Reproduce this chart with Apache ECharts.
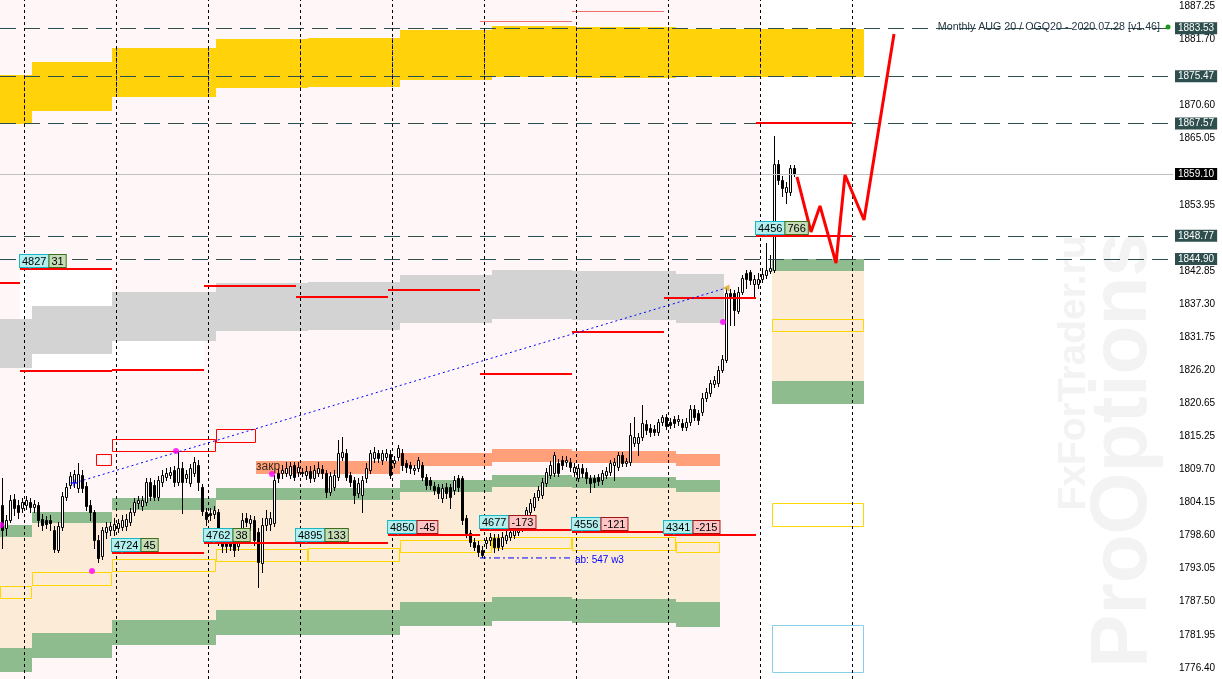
<!DOCTYPE html>
<html>
<head>
<meta charset="utf-8">
<title>Monthly AUG 20 / OGQ20</title>
<script src="https://cdn.jsdelivr.net/npm/echarts@6.0.0/dist/echarts.min.js"></script>
<style>
  html, body { margin: 0; padding: 0; background: #fff; }
  #chart { width: 1222px; height: 679px; }
</style>
</head>
<body>
<div id="chart"></div>
<script>
// x = hourly bar number (one unit per candle), y = price

// candles: [open, close, low, high]
const candles = [
  [1803.69,1799.50,1796.49,1808.21],[1799.84,1801.18,1798.67,1802.01],[1801.18,1804.52,1800.84,1805.36],
  [1804.69,1803.18,1802.01,1805.53],[1803.69,1802.51,1801.51,1804.52],[1803.18,1804.19,1802.51,1804.86],
  [1803.69,1804.52,1803.02,1805.19],[1804.19,1803.35,1802.51,1804.86],[1803.35,1803.85,1802.51,1804.52],
  [1803.69,1801.18,1800.17,1804.19],[1801.34,1800.34,1799.50,1802.18],[1801.18,1800.51,1799.84,1801.85],
  [1801.18,1800.67,1799.50,1802.01],[1799.50,1796.32,1795.82,1800.17],[1796.15,1800.17,1795.82,1800.84],
  [1800.00,1805.19,1799.50,1805.86],[1805.02,1806.70,1804.52,1807.37],[1807.03,1808.54,1806.53,1809.21],
  [1807.54,1808.88,1806.70,1809.55],[1806.53,1808.88,1805.86,1810.72],[1808.71,1806.53,1805.86,1809.55],
  [1806.87,1803.52,1802.85,1807.54],[1803.69,1802.51,1801.18,1804.52],[1802.51,1797.83,1796.49,1802.85],
  [1797.83,1794.82,1794.14,1798.67],[1795.15,1799.50,1794.65,1800.00],[1799.17,1800.00,1798.16,1800.84],
  [1799.50,1800.17,1798.67,1800.84],[1799.50,1800.51,1798.67,1801.51],[1799.84,1800.67,1799.17,1801.34],
  [1800.00,1801.18,1799.50,1802.01],[1800.17,1801.34,1799.50,1802.18],[1800.84,1802.51,1800.34,1803.18],
  [1802.51,1804.19,1802.01,1804.86],[1804.02,1804.52,1803.18,1805.19],[1803.52,1804.52,1802.85,1805.19],
  [1804.19,1807.54,1803.69,1808.21],[1807.54,1805.19,1804.52,1808.21],[1807.03,1805.02,1804.52,1807.87],
  [1805.02,1807.87,1804.52,1808.54],[1807.54,1808.71,1806.87,1809.55],[1808.37,1809.04,1807.87,1809.88],
  [1808.71,1809.21,1808.21,1810.05],[1809.55,1807.54,1806.87,1810.22],[1807.54,1809.88,1807.03,1812.56],
  [1809.88,1807.54,1802.35,1810.89],[1808.21,1808.88,1807.54,1809.55],[1807.37,1809.88,1806.87,1810.55],
  [1809.04,1810.89,1808.54,1811.72],[1810.38,1807.54,1806.20,1811.22],[1806.70,1802.68,1802.01,1807.20],
  [1802.51,1801.34,1800.34,1803.18],[1802.35,1802.01,1801.18,1803.18],[1802.18,1802.85,1801.51,1803.52],
  [1802.51,1797.83,1796.99,1803.02],[1797.83,1796.83,1795.82,1798.67],[1798.33,1796.83,1795.82,1799.17],
  [1797.83,1796.83,1796.15,1798.50],[1797.83,1796.15,1795.15,1798.67],[1796.83,1798.33,1796.15,1799.50],
  [1799.17,1801.18,1798.50,1802.35],[1801.51,1800.84,1800.17,1802.35],[1800.67,1801.34,1799.50,1802.01],
  [1801.18,1797.83,1796.99,1801.85],[1799.17,1794.14,1789.96,1799.84],[1793.98,1800.34,1792.47,1801.51],
  [1800.34,1801.51,1799.50,1802.85],[1800.51,1801.51,1799.50,1802.51],[1800.67,1807.87,1800.17,1808.71],
  [1809.04,1808.21,1807.54,1809.88],[1809.04,1809.55,1808.21,1810.38],[1809.04,1809.88,1808.54,1810.89],
  [1808.71,1810.22,1808.21,1810.89],[1810.38,1808.37,1807.87,1810.89],[1809.21,1810.05,1808.54,1810.89],
  [1809.21,1809.04,1808.54,1809.88],[1808.71,1809.38,1808.04,1810.22],[1809.38,1808.21,1807.54,1810.22],
  [1808.21,1809.55,1807.70,1810.38],[1809.04,1809.88,1808.54,1810.89],[1809.71,1809.04,1808.21,1810.38],
  [1809.04,1805.86,1805.02,1809.55],[1805.86,1808.54,1805.36,1809.21],[1806.70,1808.71,1806.20,1809.55],
  [1808.37,1812.39,1807.87,1814.57],[1811.72,1812.56,1811.22,1815.07],[1812.39,1808.37,1807.87,1813.06],
  [1808.71,1807.54,1806.87,1809.21],[1807.87,1805.36,1804.02,1808.37],[1805.69,1807.37,1805.02,1808.21],
  [1805.36,1807.87,1802.51,1808.54],[1808.21,1809.88,1807.54,1810.72],[1809.55,1812.39,1809.04,1812.90],
  [1811.56,1812.56,1810.89,1813.40],[1812.39,1811.56,1810.89,1812.90],[1811.22,1812.39,1810.55,1812.90],
  [1811.72,1812.39,1811.22,1813.06],[1812.23,1808.71,1808.21,1812.90],[1810.72,1811.22,1810.05,1811.89],
  [1811.72,1813.23,1811.22,1813.73],[1812.39,1810.38,1809.55,1813.06],[1810.72,1810.05,1809.21,1811.22],
  [1810.38,1809.88,1809.04,1810.89],[1809.55,1809.88,1808.88,1810.38],[1809.88,1811.22,1809.38,1811.72],
  [1810.38,1808.37,1807.87,1810.89],[1808.37,1807.03,1806.36,1808.88],[1807.87,1807.03,1806.36,1808.37],
  [1806.87,1806.20,1805.53,1807.54],[1806.70,1805.69,1804.86,1807.20],[1804.86,1806.53,1804.19,1807.20],
  [1806.70,1805.69,1804.86,1807.37],[1806.70,1805.02,1803.18,1807.20],[1806.20,1807.87,1805.53,1808.54],
  [1808.21,1806.70,1806.03,1808.71],[1808.21,1801.18,1800.51,1808.54],[1801.51,1799.00,1798.33,1802.01],
  [1799.00,1797.49,1796.83,1799.50],[1797.49,1796.66,1796.15,1798.16],[1796.99,1795.82,1795.15,1797.66],
  [1796.15,1795.32,1794.98,1796.83],[1797.33,1797.83,1796.49,1798.33],[1797.83,1798.33,1796.99,1799.00],
  [1798.16,1796.66,1795.82,1798.83],[1798.16,1796.66,1796.15,1798.83],[1796.83,1798.33,1796.32,1799.17],
  [1797.83,1798.67,1797.33,1799.33],[1798.33,1799.17,1797.83,1799.84],[1798.67,1799.84,1798.16,1800.34],
  [1799.17,1800.00,1798.67,1800.67],[1799.84,1800.84,1799.33,1801.51],[1800.84,1802.85,1800.34,1803.35],
  [1802.51,1804.02,1802.01,1804.69],[1803.35,1805.02,1802.85,1805.69],[1805.02,1806.20,1804.52,1806.87],
  [1805.36,1807.54,1804.86,1808.21],[1807.37,1809.21,1806.87,1809.88],[1808.71,1810.38,1808.21,1811.05],
  [1809.04,1812.06,1808.54,1812.56],[1810.72,1809.04,1808.54,1811.39],[1811.22,1810.38,1809.71,1811.89],
  [1810.89,1811.22,1810.22,1811.89],[1810.89,1810.05,1809.38,1811.56],[1809.21,1810.05,1808.54,1810.72],
  [1808.21,1809.88,1807.70,1810.55],[1809.88,1809.04,1808.37,1810.55],[1809.21,1808.21,1807.37,1809.88],
  [1808.21,1807.37,1805.86,1808.71],[1808.21,1807.54,1806.70,1808.71],[1808.37,1807.70,1807.03,1808.88],
  [1807.87,1809.04,1807.20,1809.55],[1808.71,1809.38,1808.21,1810.05],[1809.21,1810.72,1808.71,1811.22],
  [1810.38,1810.89,1807.87,1811.56],[1810.05,1812.06,1809.55,1812.56],[1812.06,1810.72,1810.22,1812.56],
  [1810.72,1811.05,1810.22,1811.56],[1810.89,1815.41,1810.38,1817.42],[1814.07,1815.07,1813.57,1818.42],
  [1814.07,1815.07,1812.06,1815.74],[1815.07,1817.42,1814.57,1820.43],[1817.25,1816.24,1815.57,1817.92],
  [1816.58,1815.91,1815.24,1817.25],[1816.41,1815.91,1815.41,1817.08],[1815.91,1817.58,1815.41,1818.09],
  [1817.58,1818.42,1817.08,1818.76],[1818.42,1816.91,1816.41,1818.92],[1817.58,1817.08,1816.58,1818.25],
  [1818.09,1817.42,1816.75,1818.59],[1817.75,1818.09,1817.08,1818.76],[1817.42,1816.75,1816.24,1818.09],
  [1816.75,1817.58,1816.24,1818.25],[1817.58,1819.76,1817.08,1820.43],[1819.76,1818.42,1817.92,1820.43],
  [1819.09,1817.92,1817.25,1819.60],[1819.26,1821.60,1818.76,1822.44],[1821.60,1822.61,1821.10,1823.28],
  [1822.44,1824.12,1821.94,1824.62],[1823.95,1824.62,1823.45,1825.29],[1824.12,1826.29,1823.61,1826.96],
  [1826.29,1828.14,1825.96,1828.81],[1827.97,1839.19,1827.63,1840.02],[1839.19,1838.68,1833.83,1839.86],
  [1839.19,1836.34,1833.83,1839.69],[1836.17,1839.35,1835.84,1840.19],[1839.35,1841.70,1839.02,1842.20],
  [1842.54,1841.53,1840.02,1843.04],[1842.70,1841.36,1840.69,1843.04],[1840.69,1841.53,1838.68,1842.20],
  [1840.69,1841.53,1840.02,1842.54],[1841.53,1842.37,1841.03,1843.37],[1842.20,1843.04,1841.70,1847.56],
  [1842.87,1843.37,1842.54,1845.55],[1843.04,1860.79,1842.70,1865.48],[1860.79,1858.11,1857.44,1861.46],
  [1858.11,1856.77,1855.43,1858.78],[1856.10,1856.94,1854.26,1857.77],[1856.10,1860.12,1855.60,1860.62],
  [1860.12,1859.10,1858.78,1860.62]
];

const priceTicks = [1776.40, 1781.95, 1787.50, 1793.05, 1798.60, 1804.15, 1809.70, 1815.25, 1820.65,
  1826.20, 1831.75, 1837.30, 1842.85, 1848.40, 1853.95, 1859.50, 1865.05, 1870.60, 1876.15, 1881.70, 1887.25];
const keyLevels = [1883.53, 1875.47, 1867.57, 1848.77, 1844.90];
const lastPrice = 1859.10;
const daySeparators = [6, 29, 52, 75, 98, 121, 144, 167, 190, 213];

// zones: [from bar, to bar, top price, bottom price]
const historyArea = [[0, 190, 1888.25, 1774.55]];
const rangeAreas = [[5, 28, 1843.21, 1826.13], [28, 51, 1839.40, 1826.30]];
const yellowZones = [
  [0, 8, 1875.70, 1867.49], [8, 28, 1877.87, 1869.67], [28, 54, 1880.22, 1872.01],
  [54, 77, 1881.72, 1873.52], [77, 100, 1881.89, 1873.69], [100, 123, 1883.23, 1874.86],
  [123, 144, 1883.90, 1875.36], [144, 169, 1883.73, 1875.19], [169, 216, 1883.40, 1875.28]
];
const grayZones = [
  [0, 8, 1834.83, 1826.63], [8, 28, 1837.01, 1829.00], [28, 54, 1839.36, 1831.15],
  [54, 77, 1840.87, 1832.83], [77, 100, 1841.03, 1833.00], [100, 123, 1842.21, 1834.17],
  [123, 143, 1843.04, 1834.83], [143, 169, 1842.88, 1834.67], [169, 181, 1842.37, 1834.17]
];
const upperGreen = [
  [0, 8, 1800.34, 1798.33], [8, 28, 1802.52, 1800.67], [28, 54, 1804.86, 1802.85],
  [54, 77, 1806.54, 1804.53], [77, 100, 1806.54, 1804.53], [100, 123, 1807.88, 1805.87],
  [123, 143, 1808.71, 1806.70], [143, 169, 1808.38, 1806.54], [169, 180, 1807.88, 1805.87],
  [193, 216, 1844.88, 1842.88]
];
const lowerGreen = [
  [0, 8, 1779.74, 1775.73], [8, 28, 1782.26, 1778.07], [28, 54, 1784.43, 1780.24],
  [54, 77, 1786.11, 1781.92], [77, 100, 1786.11, 1781.92], [100, 123, 1787.45, 1783.43],
  [123, 143, 1788.29, 1784.27], [143, 169, 1787.95, 1783.93], [169, 180, 1787.45, 1783.26],
  [193, 216, 1824.46, 1820.60]
];
const salmonZones = [
  [64, 100, 1811.06, 1808.88], [100, 123, 1812.40, 1810.22], [123, 143, 1813.07, 1810.89],
  [143, 169, 1812.73, 1810.72], [169, 180, 1812.23, 1810.22]
];
const yellowBoxes = [
  [0, 8, 1790.12, 1787.95], [8, 28, 1792.47, 1790.12], [28, 54, 1794.65, 1792.47],
  [54, 77, 1796.32, 1794.15], [77, 100, 1796.49, 1794.15], [100, 123, 1797.83, 1795.65],
  [123, 143, 1798.33, 1796.32], [143, 169, 1798.33, 1795.99], [169, 180, 1797.50, 1795.65],
  [193, 216, 1834.83, 1832.66], [193, 216, 1804.03, 1800.01]
];
const skyBoxes = [[193, 216, 1783.60, 1775.56]];
const redBoxes = [[24, 28, 1812.23, 1810.22], [28, 54, 1814.74, 1812.57], [54, 64, 1816.42, 1814.07]];

// level segments: [from bar, to bar, price]
const redLevels = [
  [0, 5, 1840.87], [5, 28, 1843.21], [5, 28, 1826.13], [28, 51, 1826.30], [28, 51, 1795.65],
  [51, 74, 1840.36], [51, 74, 1797.33], [74, 97, 1838.52], [74, 97, 1797.33],
  [97, 120, 1839.69], [97, 120, 1798.67], [120, 143, 1825.63], [120, 143, 1799.50],
  [143, 166, 1832.66], [143, 166, 1799.17], [166, 189, 1838.35], [166, 189, 1798.67],
  [189, 213, 1867.66], [189, 213, 1848.73]
];
const thinLevels = [[120, 143, 1884.74], [143, 166, 1886.41]];

// day labels: [bar, price, volume, delta]
const dayLabels = [
  [5, 1843.21, '4827', '31'], [28, 1795.65, '4724', '45'], [51, 1797.33, '4762', '38'],
  [74, 1797.33, '4895', '133'], [97, 1798.67, '4850', '-45'], [120, 1799.50, '4677', '-173'],
  [143, 1799.17, '4556', '-121'], [166, 1798.67, '4341', '-215'], [189, 1848.73, '4456', '766']
];

const forecast = [[199.25, 1858.62], [202.75, 1849.41], [205, 1853.76], [209, 1844.21],
  [211.25, 1858.95], [216, 1851.41], [223.5, 1882.56]];
const trendLine = [[18.5, 1807.37], [180.75, 1839.86]];
const abLine = [[120, 1794.82], [143.25, 1794.82]];
const magentaDots = [[0.25, 1800.34], [23, 1792.64], [44, 1812.73], [68, 1808.88], [180.75, 1834.34]];
const trendStart = [[18.5, 1807.37]];
const trendEnd = [[181.5, 1840.03]];
const notes = [[64, 1810.0, 'закр', '#3b2a1e', 12], [143.75, 1794.45, 'ab: 547 w3', '#0000ff', 10]];

const FONT = '"Liberation Sans", Arial, sans-serif';

function fillSeries(data, color, z) {
  return {
    type: 'custom', silent: true, z: z, data: data,
    renderItem: function (params, api) {
      const a = api.coord([api.value(0), api.value(2)]);
      const b = api.coord([api.value(1), api.value(3)]);
      return {
        type: 'rect',
        shape: { x: Math.round(a[0]), y: Math.round(a[1]), width: Math.round(b[0]) - Math.round(a[0]), height: Math.round(b[1]) - Math.round(a[1]) },
        style: { fill: color }
      };
    }
  };
}

function outlineSeries(data, color, z) {
  return {
    type: 'custom', silent: true, z: z, data: data,
    renderItem: function (params, api) {
      const a = api.coord([api.value(0), api.value(2)]);
      const b = api.coord([api.value(1), api.value(3)]);
      const x0 = Math.round(a[0]) + 0.5, y0 = Math.round(a[1]) + 0.5;
      return {
        type: 'rect',
        shape: { x: x0, y: y0, width: Math.round(b[0]) - Math.round(a[0]) - 1, height: Math.round(b[1]) - Math.round(a[1]) - 1 },
        style: { fill: 'none', stroke: color, lineWidth: 1 }
      };
    }
  };
}

function levelSeries(data, color, width, z) {
  return {
    type: 'custom', silent: true, z: z, data: data,
    renderItem: function (params, api) {
      const a = api.coord([api.value(0), api.value(2)]);
      const b = api.coord([api.value(1), api.value(2)]);
      const y = width % 2 ? Math.round(a[1]) + 0.5 : Math.round(a[1]);
      return {
        type: 'line',
        shape: { x1: Math.round(a[0]), y1: y, x2: Math.round(b[0]), y2: y },
        style: { stroke: color, lineWidth: width }
      };
    }
  };
}

// peach body between the two green bands of each session
const peachZones = upperGreen.map(function (u, i) {
  return [u[0], u[1], u[3], lowerGreen[i][2]];
});

// separators show blue where they cross the yellow band
const separatorOnYellow = daySeparators.map(function (x) {
  const z = yellowZones.find(function (r) { return x >= r[0] && x < r[1]; });
  return [x, z[2], z[3]];
});

// axis labels hidden behind the level boxes
const coveredTick = function (v) {
  return keyLevels.concat([lastPrice]).some(function (k) { return Math.abs(k - v) < 1; });
};

const candleData = candles.map(function (c, i) { return [i + 0.5, c[0], c[1], c[2], c[3]]; });

const option = {
  animation: false,
  backgroundColor: '#ffffff',
  grid: { left: 0, right: 49, top: 0, bottom: 0 },
  xAxis: { type: 'value', min: 0, max: 293.25, show: false },
  yAxis: {
    type: 'value', position: 'right', min: 1774.55, max: 1888.25,
    splitLine: { show: false },
    axisLine: { show: true, lineStyle: { color: '#000', width: 1 } },
    axisTick: { show: true, length: 3, customValues: priceTicks, lineStyle: { color: '#000' } },
    axisLabel: {
      customValues: priceTicks, margin: 6, color: '#000', fontSize: 10, fontFamily: FONT,
      formatter: function (v) { return coveredTick(v) ? '' : v.toFixed(2); }
    }
  },
  graphic: [
    { type: 'text', z: 0, x: 1124, y: 450, rotation: Math.PI / 2, silent: true,
      style: { text: 'ProOptions', font: 'bold 80px ' + FONT, fill: '#f3f3f3', align: 'center', verticalAlign: 'middle' } },
    { type: 'text', z: 0, x: 1074, y: 373, rotation: Math.PI / 2, silent: true,
      style: { text: 'FxForTrader.ru', font: 'bold 39px ' + FONT, fill: '#f3f3f3', align: 'center', verticalAlign: 'middle' } },
    { type: 'text', z: 20, x: 1160, y: 27, silent: true,
      style: { text: 'Monthly AUG 20 / OGQ20 - 2020.07.28 [v1.46]', font: '10.7px ' + FONT, fill: '#1f3340', align: 'right', verticalAlign: 'middle' } },
    { type: 'circle', z: 20, silent: true, shape: { cx: 1168, cy: 27, r: 2.5 }, style: { fill: '#1a9a1a' } }
  ],
  series: [
    fillSeries(historyArea, '#fff7f7', 1),
    fillSeries(rangeAreas, '#ffffff', 1),
    fillSeries(yellowZones, '#ffd20a', 2),
    fillSeries(grayZones, '#d3d3d3', 2),
    fillSeries(peachZones, '#fcebd6', 2),
    fillSeries(upperGreen, '#8fbc8f', 2),
    fillSeries(lowerGreen, '#8fbc8f', 2),
    fillSeries(salmonZones, '#ffa07a', 2),
    outlineSeries(yellowBoxes, '#ffd700', 3),
    outlineSeries(skyBoxes, '#87cee8', 3),
    outlineSeries(redBoxes, '#ff0000', 3),
    levelSeries(thinLevels, '#f07070', 1, 3),
    {
      type: 'line', data: [], z: 3, silent: true,
      markLine: {
        silent: true, symbol: ['none', 'none'],
        lineStyle: { color: '#2f4f4f', width: 1, type: [16, 8] },
        label: {
          show: true, position: 'end', distance: 2, color: '#fff', backgroundColor: '#2f4f4f',
          padding: [1, 3, 1, 3], fontSize: 10, fontFamily: FONT,
          formatter: function (p) { return p.value.toFixed(2); }
        },
        data: keyLevels.map(function (v) { return { yAxis: v }; })
          .concat([{ yAxis: lastPrice, lineStyle: { color: '#c0c0c0', type: 'solid' },
            label: { backgroundColor: '#000' } }])
      }
    },
    {
      type: 'line', data: [], z: 3, silent: true,
      markLine: {
        silent: true, symbol: ['none', 'none'], label: { show: false },
        lineStyle: { color: '#000', width: 1, type: [3, 3] },
        data: daySeparators.map(function (v) { return { xAxis: v }; })
      }
    },
    {
      type: 'custom', silent: true, z: 3, data: separatorOnYellow,
      renderItem: function (params, api) {
        const a = api.coord([api.value(0), api.value(1)]);
        const b = api.coord([api.value(0), api.value(2)]);
        const x = Math.round(a[0]) + 0.5;
        return { type: 'line', shape: { x1: x, y1: a[1], x2: x, y2: b[1] },
          style: { stroke: '#1a3cff', lineWidth: 1, lineDash: [3, 3] } };
      }
    },
    {
      type: 'custom', silent: true, z: 4, data: candleData,
      renderItem: function (params, api) {
        const x = Math.round(api.coord([api.value(0), 0])[0]) + 0.5;
        const o = api.coord([0, api.value(1)])[1];
        const c = api.coord([0, api.value(2)])[1];
        const l = api.coord([0, api.value(3)])[1];
        const h = api.coord([0, api.value(4)])[1];
        const up = api.value(2) >= api.value(1);
        const top = Math.round(Math.min(o, c)) + 0.5;
        const bot = Math.max(Math.round(Math.max(o, c)) + 0.5, top + 1);
        return {
          type: 'group',
          children: [
            { type: 'line', shape: { x1: x, y1: Math.round(h), x2: x, y2: Math.round(l) + 1 }, style: { stroke: '#000', lineWidth: 1 } },
            { type: 'rect', shape: { x: x - 1, y: top, width: 2, height: bot - top },
              style: { fill: up ? '#fff' : '#000', stroke: '#000', lineWidth: 1 } }
          ]
        };
      }
    },
    levelSeries(redLevels, '#ff0000', 2, 5),
    {
      type: 'line', data: trendLine, z: 6, silent: true, symbol: 'none',
      lineStyle: { color: '#0000ff', width: 1, type: [2, 3] }
    },
    {
      type: 'line', data: abLine, z: 6, silent: true, symbol: 'none',
      lineStyle: { color: '#0000ff', width: 1, type: [6, 3, 2, 3] }
    },
    {
      type: 'line', data: forecast, z: 6, silent: true, symbol: 'none',
      lineStyle: { color: '#ff0000', width: 3 }
    },
    {
      type: 'scatter', data: magentaDots, z: 6, silent: true, symbolSize: 6,
      itemStyle: { color: '#ff00ff' }
    },
    {
      type: 'scatter', data: trendStart, z: 6, silent: true, symbolSize: 7,
      symbol: 'path://M2,0h1v2h2v1h-2v2h-1v-2h-2v-1h2z', itemStyle: { color: '#0000ff' }
    },
    {
      type: 'scatter', data: trendEnd, z: 6, silent: true, symbolSize: 7, symbol: 'triangle',
      symbolRotate: 90, itemStyle: { color: '#daa520' }
    },
    {
      type: 'custom', silent: true, z: 7, data: notes.map(function (n) { return [n[0], n[1]]; }),
      renderItem: function (params, api) {
        const n = notes[params.dataIndex];
        const p = api.coord([api.value(0), api.value(1)]);
        return { type: 'text', x: Math.round(p[0]), y: Math.round(p[1]),
          style: { text: n[2], fill: n[3], font: n[4] + 'px ' + FONT, align: 'left', verticalAlign: 'middle' } };
      }
    },
    {
      type: 'custom', silent: true, z: 7, data: dayLabels.map(function (d) { return [d[0], d[1]]; }),
      renderItem: function (params, api) {
        const d = dayLabels[params.dataIndex];
        const p = api.coord([api.value(0), api.value(1)]);
        const x = Math.round(p[0]), y = Math.round(p[1]) - 3;
        const neg = d[3].charAt(0) === '-';
        return {
          type: 'group',
          children: [
            { type: 'polygon', shape: { points: [[x + 7, y], [x + 13, y], [x + 10, y + 3]] }, style: { fill: '#1cb5c5' } },
            { type: 'text', x: x, y: y,
              style: {
                text: '{n|' + d[2] + '}{g| }{d|' + d[3] + '}', align: 'left', verticalAlign: 'bottom',
                rich: {
                  n: { fontSize: 11, fontFamily: FONT, color: '#000', backgroundColor: '#b2efef', borderColor: '#1cb5c5',
                    borderWidth: 1, padding: [1, 2, 0, 2], lineHeight: 10 },
                  g: { width: 1, fontSize: 2 },
                  d: { fontSize: 11, fontFamily: FONT, color: '#000',
                    backgroundColor: neg ? '#ffc4c4' : '#c6dcb6', borderColor: neg ? '#a01414' : '#3c6e1e',
                    borderWidth: 1, padding: [1, 2, 0, 2], lineHeight: 10 }
                }
              } }
          ]
        };
      }
    }
  ]
};

const chart = echarts.init(document.getElementById('chart'));
chart.setOption(option);
</script>
</body>
</html>
